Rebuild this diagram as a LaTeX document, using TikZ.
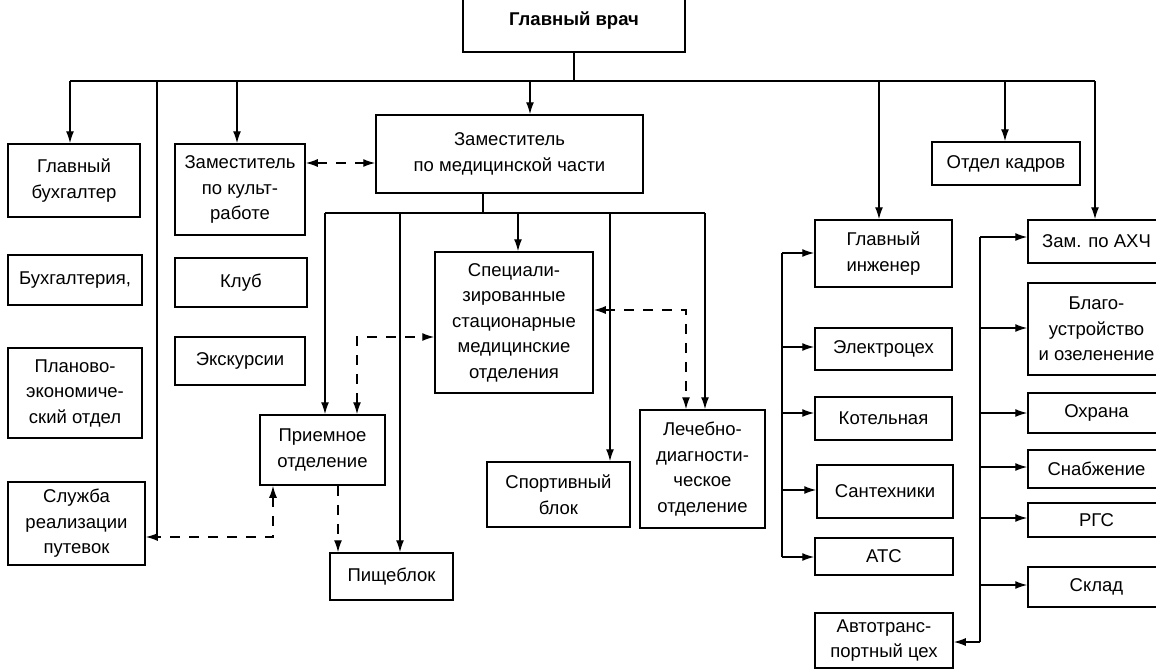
\documentclass[tikz,border=0pt]{standalone}
\usepackage{fontspec}
\setmainfont{Liberation Sans}
\usetikzlibrary{arrows.meta}
\tikzset{
  box/.style={draw, line width=1.5pt, rectangle, inner sep=0pt, align=center,
    font=\fontsize{18.5}{25.5}\selectfont},
  ln/.style={line width=1.4pt},
  arr/.style={ln, -{Latex[length=12pt,width=8pt]}},
  darr/.style={ln, dash pattern=on 10pt off 9pt, {Latex[length=12pt,width=8pt]}-{Latex[length=12pt,width=8pt]}},
  dend/.style={ln, dash pattern=on 10pt off 9pt, -{Latex[length=12pt,width=8pt]}},
  dstart/.style={ln, dash pattern=on 10pt off 9pt, {Latex[length=12pt,width=8pt]}-},
}
\newcommand{\bx}[7]{\node[box, minimum width=#4pt, minimum height=#5pt, #6] (#1) at (#2,#3) {#7};}
\begin{document}
\begin{tikzpicture}[x=1pt,y=-1pt]
\useasboundingbox (0,0) rectangle (1156,670);
\clip (0,0) rectangle (1156,670);
% boxes
\bx{glavvrach}{574}{21}{222}{62}{font=\fontsize{18.5}{25.5}\selectfont\bfseries}{Главный врач}
\bx{buh}{74}{180.5}{132}{73}{}{Главный\\бухгалтер}
\bx{buhg}{75}{280}{134}{50}{}{Бухгалтерия,}
\bx{plan}{75}{393}{134}{90}{}{Планово-\\экономиче-\\ский отдел}
\bx{sluzhba}{76.5}{523.5}{137}{83}{}{Служба\\реализации\\путевок}
\bx{kult}{240}{189.5}{130}{91}{}{Заместитель\\по культ-\\работе}
\bx{klub}{241}{282.5}{132}{49}{}{Клуб}
\bx{eksk}{240}{361}{130}{48}{}{Экскурсии}
\bx{zammed}{509.5}{154}{267}{78}{}{Заместитель\\по медицинской части}
\bx{spec}{514}{322.5}{158}{141}{}{Специали-\\зированные\\стационарные\\медицинские\\отделения}
\bx{priem}{322.5}{450}{125}{70}{}{Приемное\\отделение}
\bx{pishche}{391.5}{576.5}{123}{47}{}{Пищеблок}
\bx{sport}{558.5}{494.5}{143}{65}{}{Спортивный\\блок}
\bx{lech}{702.5}{469}{125}{118}{}{Лечебно-\\диагности-\\ческое\\отделение}
\bx{otdkadr}{1006}{163.5}{148}{43}{}{Отдел кадров}
\bx{glinzh}{883.5}{253.5}{137}{67}{}{Главный\\инженер}
\bx{elektro}{883.5}{349}{137}{42}{}{Электроцех}
\bx{kotel}{883.5}{418.5}{137}{43}{}{Котельная}
\bx{santeh}{885}{491.5}{136}{53}{}{Сантехники}
\bx{ats}{884}{556.5}{138}{37}{}{АТС}
\bx{avto}{884}{640.5}{138}{55}{}{Автотранс-\\портный цех}
\bx{zamahch}{1096.5}{241.5}{137}{43}{}{Зам. по АХЧ}
\bx{blago}{1096.5}{329}{137}{92}{}{Благо-\\устройство\\и озеленение}
\bx{ohrana}{1096.5}{413}{137}{40}{}{Охрана}
\bx{snab}{1096.5}{469}{137}{38}{}{Снабжение}
\bx{rgs}{1096.5}{520}{137}{34}{}{РГС}
\bx{sklad}{1096.5}{587}{137}{40}{}{Склад}
% top bus
\coordinate (busL) at (70,81);
\coordinate (busR) at (1095,81);
\coordinate (b2) at (157,81);
\coordinate (b2e) at (157,537);
\coordinate (b3) at (237,81);
\coordinate (b4) at (530,81);
\coordinate (b5) at (879,81);
\coordinate (b6) at (1005,81);
\draw[ln] (glavvrach.south) -- (glavvrach.south |- busL);
\draw[ln] (busL) -- (busR);
\draw[arr] (busL) -- (busL |- buh.north);
\draw[arr] (b2) -- (b2e) -- (b2e -| sluzhba.east);
\draw[arr] (b3) -- (b3 |- kult.north);
\draw[arr] (b4) -- (b4 |- zammed.north);
\draw[arr] (b5) -- (b5 |- glinzh.north);
\draw[arr] (b6) -- (b6 |- otdkadr.north);
\draw[arr] (busR) -- (busR |- zamahch.north);
% kult <-> zammed
\coordinate (kz) at (340,163);
\draw[darr] (kz -| kult.east) -- (kz -| zammed.west);
% second bus
\coordinate (m0) at (483,213);
\coordinate (mL) at (325,213);
\coordinate (mR) at (705,213);
\coordinate (m2) at (400,213);
\coordinate (m3) at (518,213);
\coordinate (m4) at (610,213);
\draw[ln] (m0 |- zammed.south) -- (m0);
\draw[ln] (mL) -- (mR);
\draw[arr] (mL) -- (mL |- priem.north);
\draw[arr] (m2) -- (m2 |- pishche.north);
\draw[arr] (m3) -- (m3 |- spec.north);
\draw[arr] (m4) -- (m4 |- sport.north);
\draw[arr] (mR) -- (mR |- lech.north);
% dashed links
\coordinate (ps) at (357,337);
\draw[darr] (ps |- priem.north) -- (ps) -- (ps -| spec.west);
\coordinate (sl) at (686,310);
\draw[darr] (sl -| spec.east) -- (sl) -- (sl |- lech.north);
\coordinate (pp) at (338,520);
\draw[dend] (pp |- priem.south) -- (pp |- pishche.north);
\coordinate (ps2) at (273,537);
\draw[dstart] (ps2 |- priem.south) -- (ps2) -- (b2e);
% engineer column
\coordinate (e0) at (782,253);
\coordinate (e1) at (782,557);
\draw[ln] (e0) -- (e1);
\draw[arr] (e0) -- (glinzh.west |- e0);
\draw[arr] (782,347) -- (elektro.west |- 0,347);
\draw[arr] (782,413) -- (kotel.west |- 0,413);
\draw[arr] (782,490) -- (santeh.west |- 0,490);
\draw[arr] (e1) -- (ats.west |- e1);
% AHCh column
\coordinate (a0) at (980,237);
\coordinate (a1) at (980,642);
\draw[ln] (a0) -- (a1);
\draw[arr] (a0) -- (zamahch.west |- a0);
\draw[arr] (980,328) -- (blago.west |- 0,328);
\draw[arr] (980,413) -- (ohrana.west |- 0,413);
\draw[arr] (980,467) -- (snab.west |- 0,467);
\draw[arr] (980,518) -- (rgs.west |- 0,518);
\draw[arr] (980,585) -- (sklad.west |- 0,585);
\draw[arr] (a1) -- (avto.east |- a1);
\end{tikzpicture}
\end{document}
